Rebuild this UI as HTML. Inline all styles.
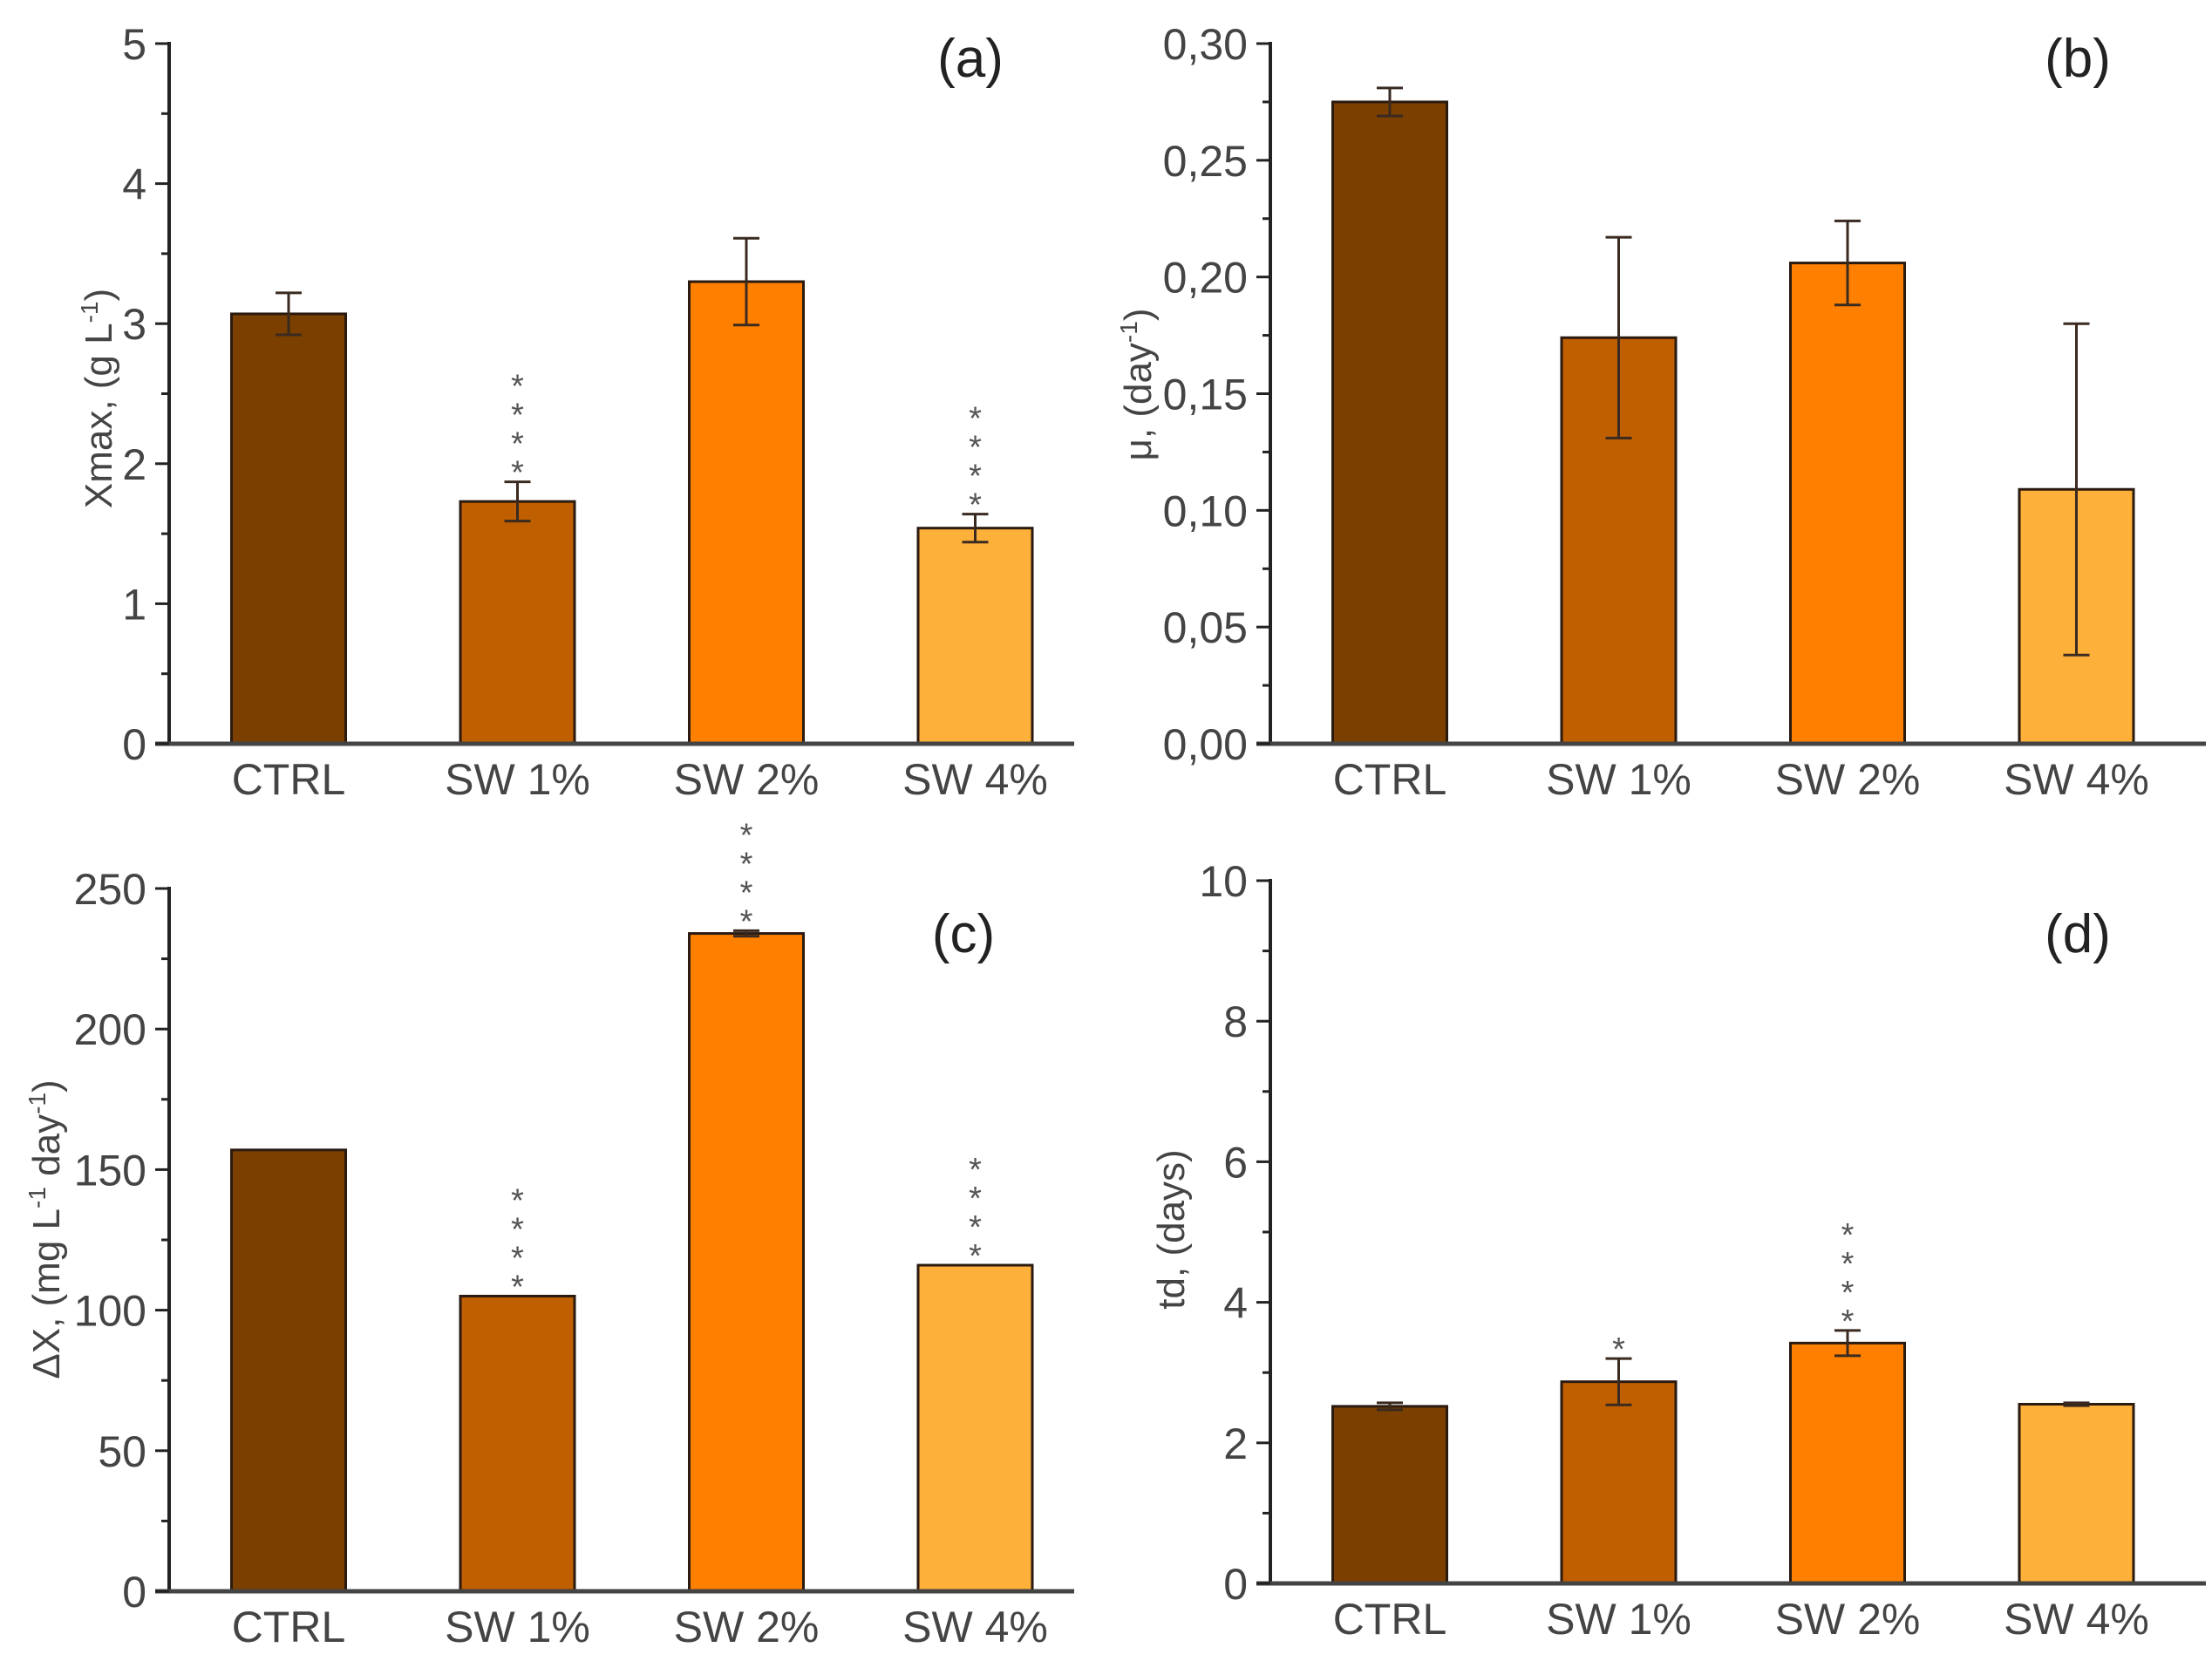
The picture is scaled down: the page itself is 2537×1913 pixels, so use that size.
<!DOCTYPE html>
<html><head><meta charset="utf-8"><style>
html,body{margin:0;padding:0;background:#fff}
svg{display:block;font-family:"Liberation Sans",sans-serif}
</style></head><body>
<svg id="fig" width="2537" height="1913" viewBox="0 0 2537 1913" xmlns="http://www.w3.org/2000/svg"></svg>
<script>
const categories = ["CTRL","SW 1%","SW 2%","SW 4%"];
const colors = ["#7B3F00","#C05F00","#FF8000","#FDB03A"];
const valuesA = [3.07,1.73,3.30,1.54];
const errorsA = [0.15,0.14,0.31,0.10];
const starsA = [0,4,0,4];
const valuesB = [0.275,0.174,0.206,0.109];
const errorsB = [0.006,0.043,0.018,0.071];
const starsB = [0,0,0,0];
const valuesC = [157,105,234,116];
const errorsC = [0,0,1,0];
const starsC = [0,4,4,4];
const valuesD = [2.52,2.87,3.42,2.55];
const errorsD = [0.05,0.33,0.18,0.02];
const starsD = [0,1,4,0];
const ticksA = [0,1,2,3,4,5];
const ticksB = [0,0.05,0.10,0.15,0.20,0.25,0.30];
const tickLabelsB = ["0,00","0,05","0,10","0,15","0,20","0,25","0,30"];
const ticksC = [0,50,100,150,200,250];
const ticksD = [0,2,4,6,8,10];

const NS="http://www.w3.org/2000/svg";
const svg=document.getElementById('fig');
function el(tag,attrs,parent){const e=document.createElementNS(NS,tag);for(const k in attrs)e.setAttribute(k,attrs[k]);(parent||svg).appendChild(e);return e;}

function panel(p){
  const g=el('g',{});
  
  
  const ymax=p.ticks[p.ticks.length-1];
  const y=v=>p.y0-(v/ymax)*(p.y0-p.yTop);
  const bw=131, step=262.5;
  const xc=i=>p.x0+137+i*step;
  p.values.forEach((v,i)=>{
    const r=el('rect',{x:xc(i)-bw/2,y:y(v),width:bw,height:p.y0-y(v),fill:colors[i],stroke:"#2a1a10","stroke-width":3},g);
    
    
    const e=p.errors[i];
    if(e>0){
      const eg=el('g',{stroke:"#3a2a20","stroke-width":3},g);
      
      
      el('line',{x1:xc(i),x2:xc(i),y1:y(v+e),y2:y(v-e)},eg);
      el('line',{x1:xc(i)-15,x2:xc(i)+15,y1:y(v+e),y2:y(v+e)},eg);
      el('line',{x1:xc(i)-15,x2:xc(i)+15,y1:y(v-e),y2:y(v-e)},eg);
    }
    const n=p.stars[i];
    for(let s=0;s<n;s++){
      const t=el('text',{x:xc(i),y:y(v+e)-12-s*33+14,"font-size":38,fill:"#555","text-anchor":"middle"},g);
      t.textContent="*";
      
      
    }
  });
  const ax=el('line',{x1:p.x0,x2:p.x0,y1:p.yTop-2,y2:p.y0,stroke:"#222","stroke-width":4},g);
  
  
  const bx=el('line',{x1:p.x0-16,x2:p.xEnd,y1:p.y0,y2:p.y0,stroke:"#444","stroke-width":5},g);
  
  
  p.ticks.forEach((t,k)=>{
    el('line',{x1:p.x0-16,x2:p.x0,y1:y(t),y2:y(t),stroke:"#222","stroke-width":3},g);
    if(k<p.ticks.length-1){const m=(t+p.ticks[k+1])/2;el('line',{x1:p.x0-9,x2:p.x0,y1:y(m),y2:y(m),stroke:"#222","stroke-width":3},g);}
    const tl=el('text',{x:p.x0-26,y:y(t)+18,"font-size":50,fill:"#444","text-anchor":"end"},g);
    tl.textContent=p.tickLabels?p.tickLabels[k]:String(t);
    
    
  });
  categories.forEach((c,i)=>{
    const t=el('text',{x:xc(i),y:p.y0+58,"font-size":50,fill:"#444","text-anchor":"middle"},g);
    t.textContent=c;
    
    
  });
  const yt=el('text',{x:0,y:0,"font-size":44,fill:"#444","text-anchor":"middle",transform:`translate(${p.titleX},${p.titleY}) rotate(-90)`},g);
  yt.innerHTML=p.title;
  
  
  const pl=el('text',{x:p.labelX,y:p.labelY,"font-size":62,fill:"#222","text-anchor":"middle"},g);
  pl.textContent="("+p.id+")";
  
  
}
panel({id:"a",x0:194,xEnd:1232,y0:853,yTop:50,ticks:ticksA,values:valuesA,errors:errorsA,stars:starsA,
  title:'Xmax, (g L<tspan dy="-16" font-size="28">-1</tspan><tspan dy="16">)</tspan>',titleX:128,titleY:457,labelX:1113,labelY:88});
panel({id:"b",x0:1457,xEnd:2530,y0:853,yTop:50,ticks:ticksB,tickLabels:tickLabelsB,values:valuesB,errors:errorsB,stars:starsB,
  title:'μ, (day<tspan dy="-16" font-size="28">-1</tspan><tspan dy="16">)</tspan>',titleX:1320,titleY:441,labelX:2383,labelY:88});
panel({id:"c",x0:194,xEnd:1232,y0:1825,yTop:1019,ticks:ticksC,values:valuesC,errors:errorsC,stars:starsC,
  title:'ΔX, (mg L<tspan dy="-16" font-size="28">-1</tspan><tspan dy="16"> day</tspan><tspan dy="-16" font-size="28">-1</tspan><tspan dy="16">)</tspan>',titleX:68,titleY:1410,labelX:1105,labelY:1092});
panel({id:"d",x0:1457,xEnd:2530,y0:1816,yTop:1010,ticks:ticksD,values:valuesD,errors:errorsD,stars:starsD,
  title:'td, (days)',titleX:1358,titleY:1410,labelX:2383,labelY:1092});
</script>
</body></html>
